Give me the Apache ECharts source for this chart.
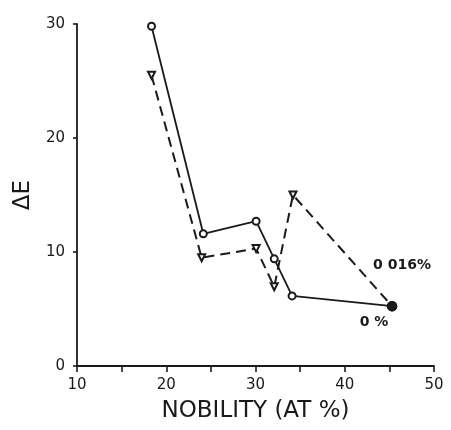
<!DOCTYPE html>
<html>
<head>
<meta charset="utf-8">
<script src="https://cdn.jsdelivr.net/npm/echarts@6/dist/echarts.min.js"></script>
<style>
  html, body { margin: 0; padding: 0; background: #fff; }
  #chart { width: 451px; height: 430px; }
</style>
</head>
<body>
<div id="chart"></div>
<script>
// Nobility (at %) and energy difference ΔE for two alloy additions
const nobilityPure = [18.35, 24.15, 30.07, 32.1, 34.1, 45.3];
const deltaEPure   = [29.8, 11.6, 12.7, 9.4, 6.15, 5.25];
const nobilityDoped = [18.35, 23.97, 30.07, 32.1, 34.2, 45.3];
const deltaEDoped   = [25.5, 9.5, 10.3, 6.95, 15.0, 5.25];
const seriesNames = ['0 %', '0 016%'];
const xTicks = [10, 20, 30, 40, 50];
const yTicks = [0, 10, 20, 30];

const ink = '#1a1a1a';
const font = 'DejaVu Sans';

function pairs(xs, ys) { return xs.map((x, i) => [x, ys[i]]); }

function buildData(xs, ys, labelOffset, name) {
  const data = pairs(xs, ys).map(p => ({ value: p }));
  const last = data[data.length - 1];
  last.symbol = 'circle';
  last.symbolSize = 9;
  last.itemStyle = { color: ink, borderColor: ink };
  last.label = {
    show: true,
    formatter: name,
    position: 'inside',
    offset: labelOffset,
    color: ink,
    fontFamily: font,
    fontSize: 14,
    fontWeight: 'bold'
  };
  return data;
}

const chart = echarts.init(document.getElementById('chart'), null, { renderer: 'canvas' });
chart.setOption({
  animation: false,
  backgroundColor: '#fff',
  grid: { left: 77, right: 17, top: 24, bottom: 64 },
  xAxis: {
    type: 'value',
    min: 10, max: 50, interval: 10,
    name: 'NOBILITY (AT %)',
    nameLocation: 'middle',
    nameGap: 34,
    nameTextStyle: { color: ink, fontFamily: font, fontSize: 23 },
    axisLine: { show: true, lineStyle: { color: ink, width: 1.8 } },
    axisTick: { show: true, inside: false, length: 6, lineStyle: { color: ink, width: 1.6 } },
    minorTick: { show: true, splitNumber: 2, length: 6, lineStyle: { color: ink, width: 1.6 } },
    axisLabel: {
      color: ink, fontFamily: font, fontSize: 15, margin: 12,
      formatter: v => xTicks.includes(v) ? String(v) : ''
    },
    splitLine: { show: false }
  },
  yAxis: {
    type: 'value',
    min: 0, max: 30, interval: 10,
    name: 'ΔE',
    nameLocation: 'middle',
    nameRotate: 90,
    nameGap: 39,
    nameTextStyle: { color: ink, fontFamily: font, fontSize: 23 },
    axisLine: { show: true, lineStyle: { color: ink, width: 1.8 } },
    axisTick: { show: true, inside: false, length: 4, lineStyle: { color: ink, width: 1.6 } },
    axisLabel: {
      color: ink, fontFamily: font, fontSize: 15, margin: 12,
      formatter: v => yTicks.includes(v) ? String(v) : ''
    },
    splitLine: { show: false }
  },
  series: [
    {
      name: seriesNames[0],
      type: 'line',
      data: buildData(nobilityPure, deltaEPure, [-18, 16], seriesNames[0]),
      symbol: 'emptyCircle',
      symbolSize: 7,
      lineStyle: { color: ink, width: 1.8, type: 'solid' },
      itemStyle: { color: ink, borderColor: ink, borderWidth: 1.5 },
      z: 3
    },
    {
      name: seriesNames[1],
      type: 'line',
      data: buildData(nobilityDoped, deltaEDoped, [10, -41], seriesNames[1]),
      symbol: 'emptyTriangle',
      symbolRotate: 180,
      symbolSize: 7,
      lineStyle: { color: ink, width: 2, type: [10, 6] },
      itemStyle: { color: ink, borderColor: ink, borderWidth: 1.5 },
      z: 2
    }
  ]
});
</script>
</body>
</html>
